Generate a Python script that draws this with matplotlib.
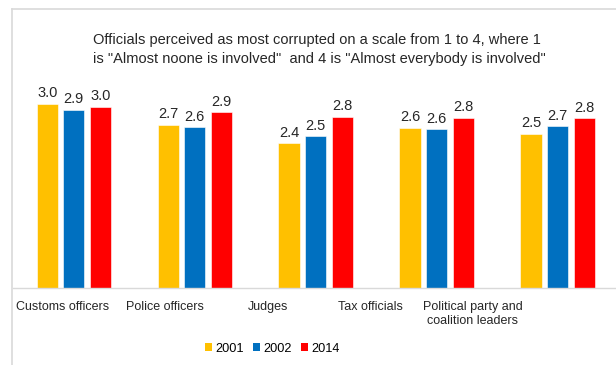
import numpy as np
import matplotlib.pyplot as plt
from matplotlib.lines import Line2D
from matplotlib.patches import Patch

plt.rcParams['font.family'] = ['Liberation Sans', 'DejaVu Sans']

categories = ['Customs officers', 'Police officers', 'Judges', 'Tax officials',
              'Political party and\ncoalition leaders']
years = ['2001', '2002', '2014']
scores = {
    '2001': [3.03, 2.68, 2.38, 2.63, 2.53],
    '2002': [2.93, 2.64, 2.49, 2.61, 2.66],
    '2014': [2.98, 2.89, 2.81, 2.80, 2.79],
}
colors = ['#FFC000', '#0070C0', '#FF0000']
title = ('Officials perceived as most corrupted on a scale from 1 to 4, where 1\n'
         'is "Almost noone is involved"  and 4 is "Almost everybody is involved"')

grey = '#D9D9D9'
fig = plt.figure(figsize=(6.16, 3.65), dpi=100)
ax = fig.add_axes([0.0216, 0.2118, 0.982, 0.666])

x = np.arange(len(categories))
width = 0.176
step = 0.22
for k, (year, col) in enumerate(zip(years, colors)):
    vals = scores[year]
    bars = ax.bar(x + (k - 1) * step, vals, width, color=col, label=year,
                  edgecolor='white', linewidth=0.4)
    for b, v in zip(bars, vals):
        ax.annotate('%0.1f' % v, (b.get_x() + b.get_width() / 2, v),
                    xytext=(0, 2.5), textcoords='offset points',
                    ha='center', va='bottom', fontsize=10.5, color='#262626')

ax.set_xlim(-0.5, len(categories) - 0.5)
ax.set_ylim(0, 4)
# category labels sit on a tighter spacing than the bar groups
ax.set_xticks(x * 0.848 - 0.093)
ax.set_xticklabels(categories, fontsize=9.0, color='#262626', linespacing=1.2)
ax.tick_params(axis='x', length=0, pad=9.5)
ax.set_yticks([])
for side in ['top', 'right', 'left']:
    ax.spines[side].set_visible(False)
ax.spines['bottom'].set_color(grey)
ax.spines['bottom'].set_linewidth(1)

fig.text(0.1515, 0.8266, title, fontsize=10.5, color='#262626',
         ha='left', va='baseline', linespacing=1.45)

handles = [Patch(facecolor=c) for c in colors]
fig.legend(handles, years, loc='center', bbox_to_anchor=(0.442, 0.045),
           ncol=3, frameon=False, fontsize=9.2, handlelength=0.55,
           handleheight=0.55, handletextpad=0.25, columnspacing=0.75)

# outer frame lines (top and left)
fig.add_artist(Line2D([12 / 616, 1], [1 - 9 / 365, 1 - 9 / 365],
                      color=grey, lw=1.2, transform=fig.transFigure))
fig.add_artist(Line2D([12 / 616, 12 / 616], [0, 1 - 9 / 365],
                      color=grey, lw=1.2, transform=fig.transFigure))

fig.savefig('out.png', dpi=100)
